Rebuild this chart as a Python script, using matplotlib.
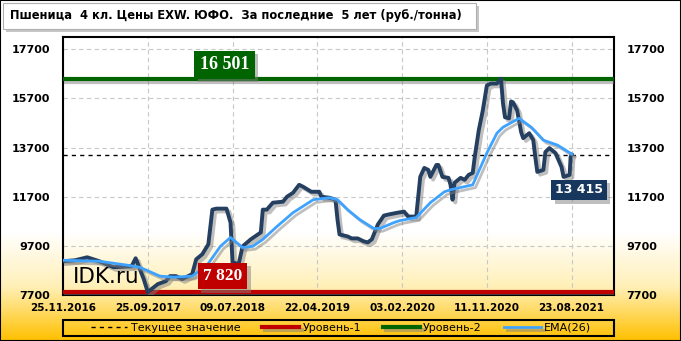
import numpy as np
import matplotlib
matplotlib.use("Agg")
import matplotlib.pyplot as plt
import matplotlib.patheffects as pe
from matplotlib.colors import LinearSegmentedColormap
from matplotlib.patches import Rectangle

# weekly index (0 = 25.11.2016) and price, rub/t
price_week = [0, 6, 12, 18, 25, 34, 36, 40, 42, 47, 51, 53, 56, 59, 64, 66, 69, 72, 74, 76,
              81, 83, 84, 87, 89, 93, 98, 99, 101, 104, 109, 111, 114, 117, 119, 123, 127, 128,
              132, 135, 136, 137, 141, 143, 146, 149, 151, 153, 156, 159, 161, 166, 169, 171,
              175, 177, 179, 181, 182, 185, 186, 188, 191, 192, 193, 194, 197, 199, 201, 203,
              204, 206, 208, 210, 212, 215, 217, 218, 219, 221, 222, 223, 225, 227, 228, 231,
              233, 234, 235, 238, 239, 241, 244, 247, 248, 251, 251.5, 252]
price = [9074, 9114, 9235, 9074, 8831, 8872, 9195, 8346, 7820, 8144, 8266, 8468, 8468, 8346,
         8548, 9154, 9356, 9760, 11174, 11215, 11215, 10649, 9033, 8952, 9680, 9962, 10245,
         11174, 11174, 11457, 11498, 11700, 11861, 12184, 12104, 11902, 11902, 11700, 11659,
         11578, 10770, 10164, 10084, 10003, 10003, 9882, 9841, 9962, 10568, 10932, 10972,
         11053, 11094, 10892, 10892, 12508, 12871, 12790, 12508, 12992, 12992, 12508, 12467,
         12184, 11578, 12265, 12467, 12386, 12588, 12669, 13316, 14406, 15214, 16224, 16305,
         16305, 16501, 15497, 14932, 14891, 15578, 15538, 15214, 14326, 14083, 14285, 14002,
         13316, 12710, 12790, 13518, 13679, 13477, 12911, 12508, 12588, 13316, 13415]

ema_week = [0, 18, 32, 38, 48, 55, 64, 71, 78, 83, 89, 94, 99, 106, 114, 124, 132, 136, 141,
            147, 154, 157, 164, 167, 175, 182, 189, 192, 203, 210, 215, 218, 226, 232, 238,
            245, 252]
ema = [9114, 9074, 8912, 8831, 8468, 8427, 8468, 8872, 9680, 10043, 9629, 9680, 9962, 10488,
       11053, 11578, 11659, 11578, 11174, 10770, 10407, 10407, 10649, 10730, 10851, 11457,
       11902, 11982, 12184, 13477, 14285, 14528, 14891, 14528, 14002, 13800, 13440]

level1 = 7820
level2 = 16501
current = 13415

tick_weeks = [0, 42, 84, 126, 168, 210, 252]
tick_labels = ["25.11.2016", "25.09.2017", "09.07.2018", "22.04.2019",
               "03.02.2020", "11.11.2020", "23.08.2021"]
y_ticks = [7700, 9700, 11700, 13700, 15700, 17700]

title = "Пшеница  4 кл. Цены EXW. ЮФО.  За последние  5 лет (руб./тонна)"

W, H = 681, 341
fig = plt.figure(figsize=(W / 100, H / 100), dpi=100)

# background gradient: white on top, gold at the bottom
bg = fig.add_axes([0, 0, 1, 1], zorder=-10)
rows = np.linspace(0, 1, 341)
grad = np.clip((rows * 341 - 232) / 109, 0, 1)
cmap = LinearSegmentedColormap.from_list("bg", ["#ffffff", "#fff0b8", "#ffc000"])
bg.imshow(grad[:, None], aspect="auto", cmap=cmap, extent=[0, 1, 0, 1], origin="upper")
bg.set_axis_off()
fig.patches.append(Rectangle((0, 0), 1, 1, transform=fig.transFigure, fill=False,
                             edgecolor="black", linewidth=1.5))

ax = fig.add_axes([63 / W, 1 - 295 / H, (614 - 63) / W, (295 - 37) / H])
ax.set_facecolor("none")

shadow = [pe.SimpleLineShadow(offset=(2, -2), shadow_color="gray", alpha=0.5), pe.Normal()]

ax.axhline(current, color="black", linestyle=(0, (3, 3)), linewidth=1, zorder=2,
           label="Текущее значение")
ax.axhline(level1, color="#c00000", linewidth=3, zorder=3, path_effects=shadow, label="Уровень-1")
ax.axhline(level2, color="#006400", linewidth=3, zorder=3, path_effects=shadow, label="Уровень-2")
ax.plot(price_week, price, color="#243f60", linewidth=2.8, zorder=4, path_effects=shadow,
        solid_joinstyle="round")
ax.plot(ema_week, ema, color="#3ea2ff", linewidth=2.0, zorder=5, path_effects=shadow,
        label="EMA(26)")

ax.set_xlim(0, 273)
ax.set_ylim(7700, 18200)
ax.set_xticks(tick_weeks)
ax.set_xticklabels(tick_labels)
ax.set_yticks(y_ticks)
ax.tick_params(axis="both", length=0, labelsize=8)
ax.tick_params(axis="x", pad=6, labelsize=7.5)
ax.tick_params(axis="y", pad=9, labelright=True)
for t in ax.xaxis.get_major_ticks() + ax.yaxis.get_major_ticks():
    t.label1.set_fontweight("bold")
    t.label2.set_fontweight("bold")
ax.grid(True, color="#c8c8c8", linestyle=(0, (4, 3)), linewidth=0.8)
for s in ax.spines.values():
    s.set_linewidth(1.5)

ax.text(5, 8450, "IDK.ru", fontsize=15.5, color="black", zorder=6, va="center")

box_shadow = [pe.withSimplePatchShadow(offset=(2.5, -2.5), shadow_rgbFace="gray", alpha=0.5)]


def value_box(x, y, text, fc, size, family):
    t = ax.text(x, y, text, ha="center", va="center", fontsize=size, fontweight="bold",
                family=family, color="white", zorder=8,
                bbox=dict(boxstyle="square,pad=0.3", fc=fc, ec="none"))
    t.get_bbox_patch().set_path_effects(box_shadow)


value_box(80, 17070, "16 501", "#006400", 13, "Liberation Serif")
value_box(79, 8470, "7 820", "#c00000", 12.5, "Liberation Serif")
value_box(255.7, 11980, "13 415", "#17375e", 9, "DejaVu Sans")

# legend in a frame spanning the plot width
fig.patches.append(Rectangle((63 / W, 1 - 336 / H), 551 / W, 16 / H, transform=fig.transFigure,
                             fill=False, edgecolor="black", linewidth=1.5))
fig.legend(loc="center", bbox_to_anchor=(341 / W, 1 - 328 / H), ncol=4,
           fontsize=8, frameon=False, handlelength=3.3,
           handletextpad=0.3, columnspacing=2.0, borderpad=0.1)

# title box with shadow
fig.patches.append(Rectangle((6 / W, 1 - 32 / H), 473 / W, 26 / H, transform=fig.transFigure,
                             facecolor="#a0a0a0", edgecolor="none", alpha=0.6))
fig.patches.append(Rectangle((3 / W, 1 - 29 / H), 473 / W, 26 / H, transform=fig.transFigure,
                             facecolor="white", edgecolor="#b0b0b0", linewidth=0.8))
fig.text(10 / W, 1 - 16 / H, title, fontsize=8.3, fontweight="bold", va="center", ha="left")

fig.savefig("out.png", dpi=100)
